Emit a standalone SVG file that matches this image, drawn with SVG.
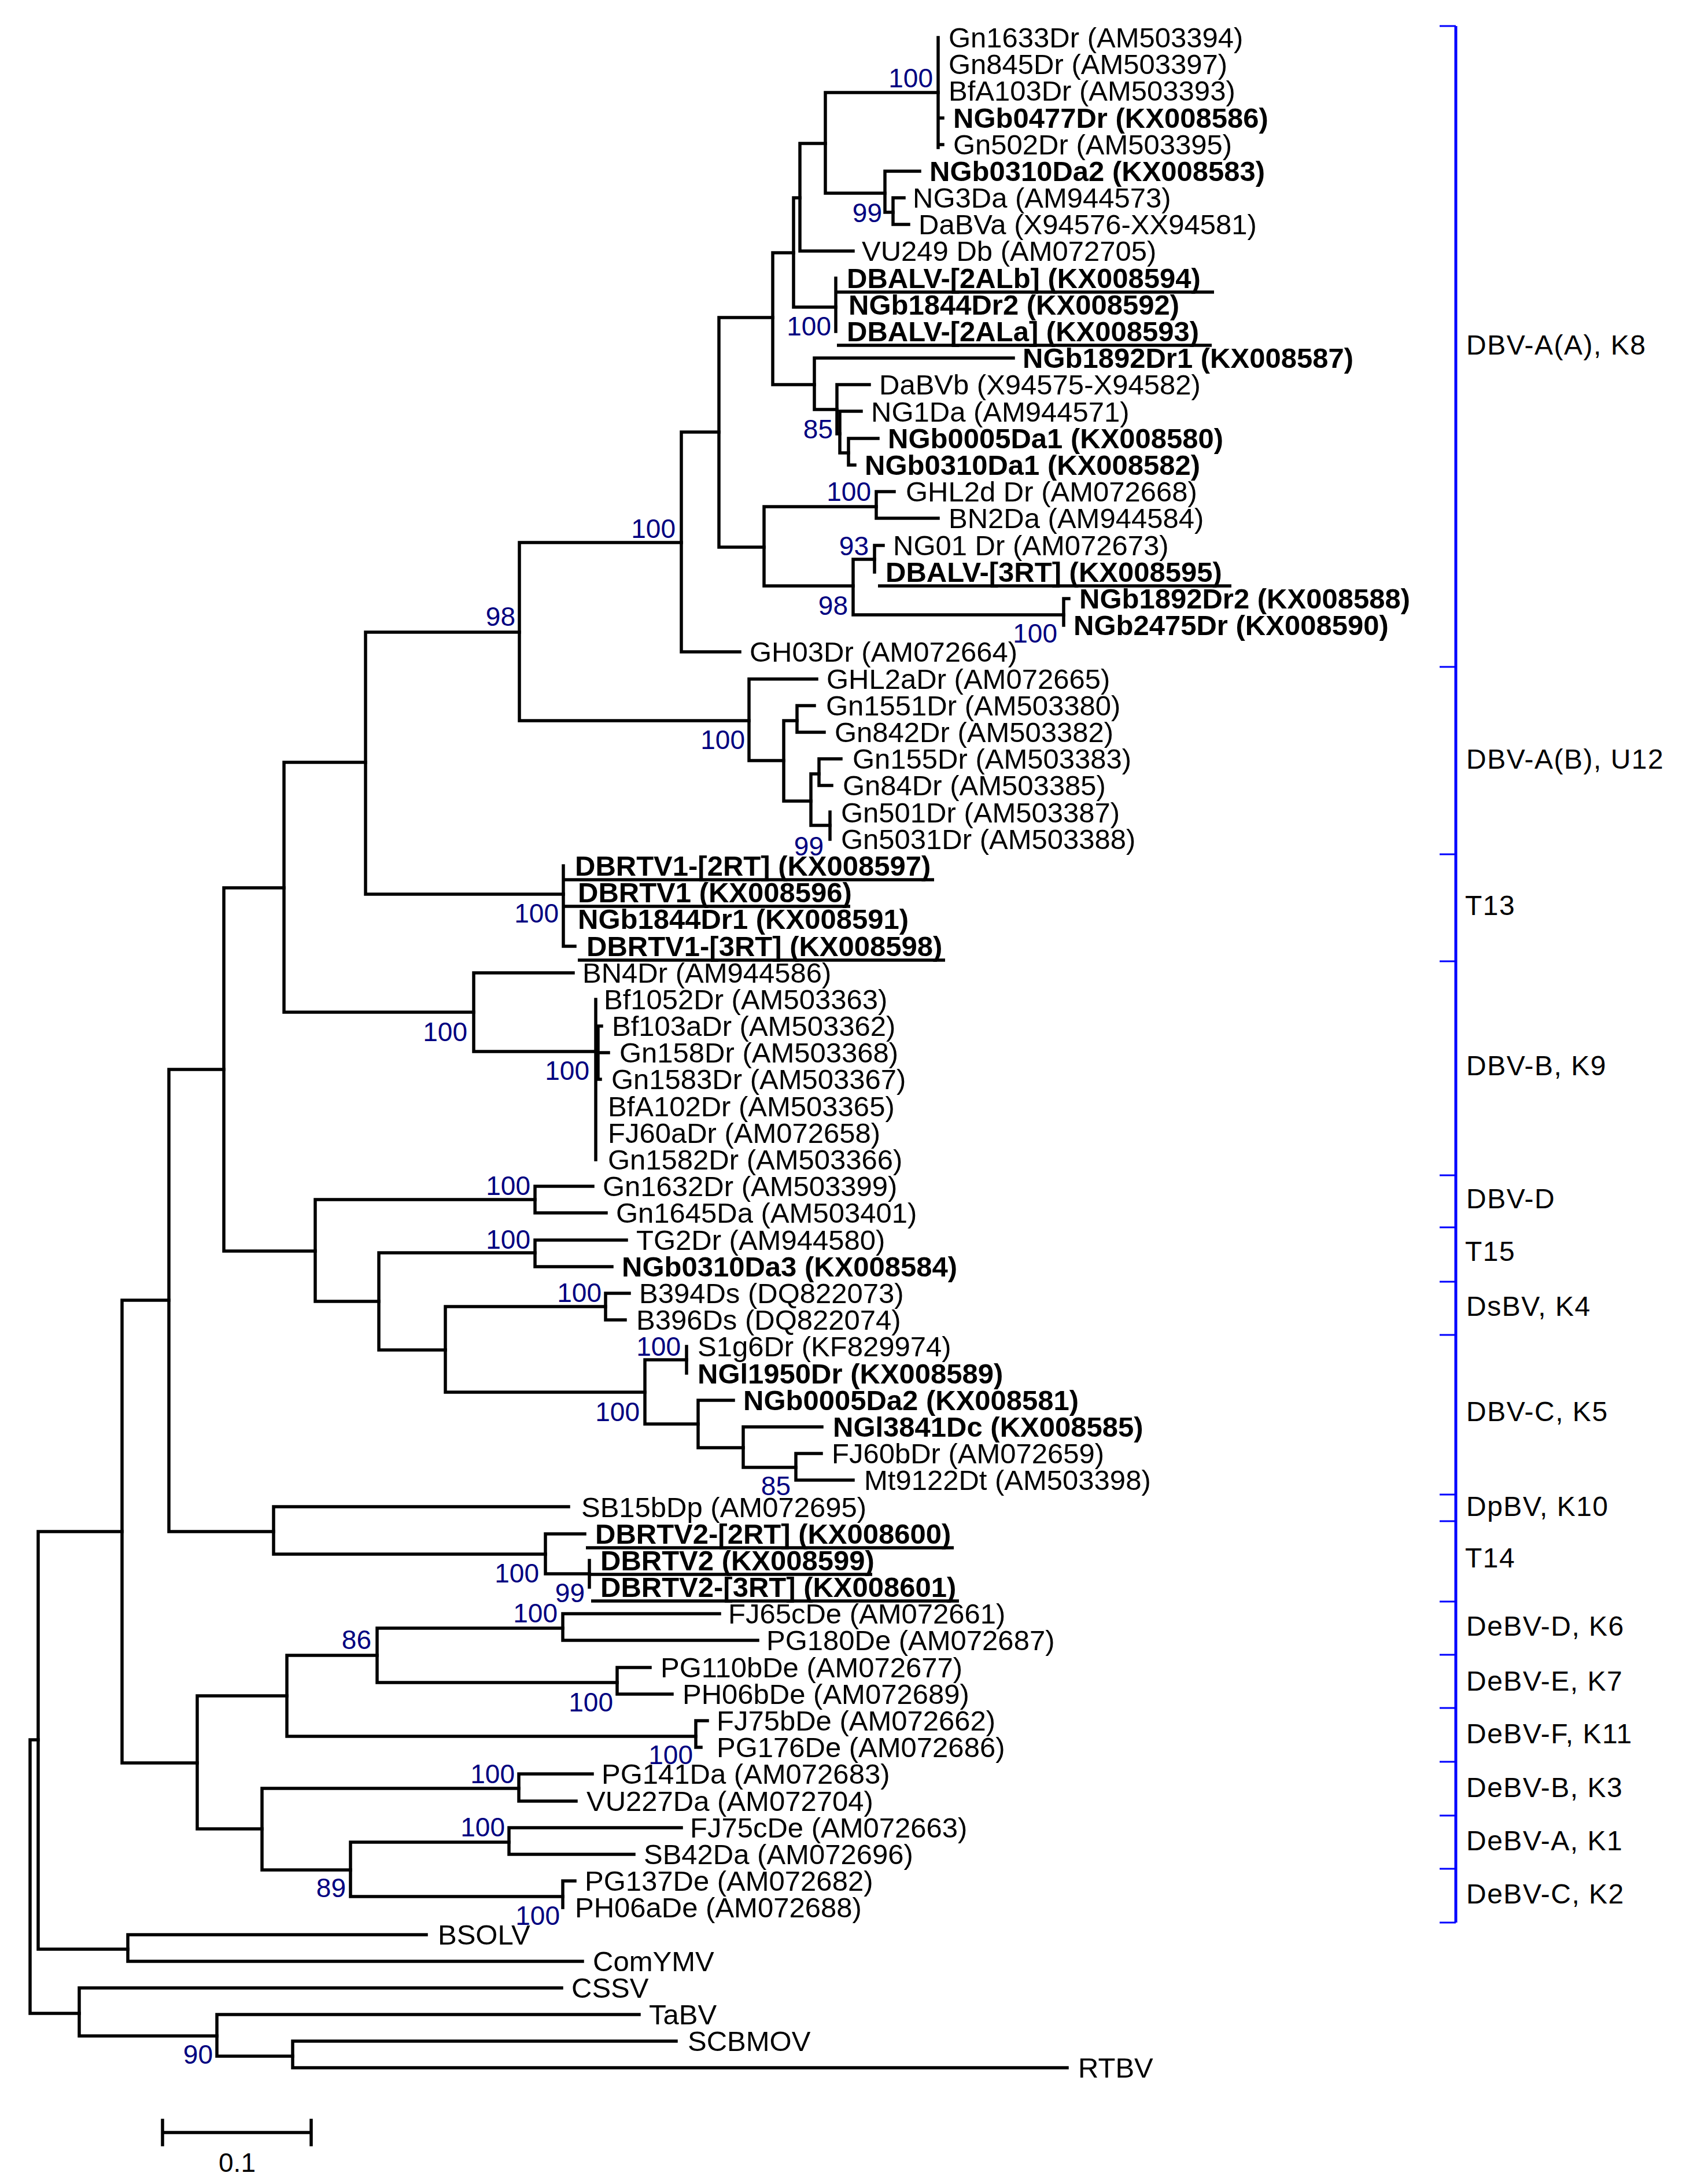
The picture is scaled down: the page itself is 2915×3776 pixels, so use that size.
<svg xmlns="http://www.w3.org/2000/svg" width="2915" height="3776" viewBox="0 0 2915 3776">
<style>
.br{stroke:#000;stroke-width:5.5;fill:none;stroke-linecap:square}
.ul{stroke:#000;stroke-width:5.5}
text{font-family:"Liberation Sans",Arial,sans-serif}
.lf{font-size:49px;fill:#000}
.b{font-weight:bold}
.bs{font-size:46px;fill:#000080;text-anchor:end}
.cl{font-size:48px;fill:#000;letter-spacing:1.5px}
.bk{stroke:#0000FF;stroke-width:5;fill:none}
.tk{stroke:#0000FF;stroke-width:3;fill:none}
</style>
<rect width="2915" height="3776" fill="#fff"/>
<g id="branches" class="br">
<path d="M1622 65V255M1622 204H1630M1622 250H1630"/>
<path d="M1427 160V334M1427 160H1622M1427 334H1530"/>
<path d="M1530 296V367M1530 296H1590M1530 367H1544"/>
<path d="M1544 342V388M1544 342H1563M1544 388H1571"/>
<path d="M1383 248V434M1383 248H1427M1383 434H1475"/>
<path d="M1372 342V531M1372 342H1383M1372 531H1445"/>
<path d="M1445 481V573"/>
<path d="M1336 437V665M1336 437H1372M1336 665H1408"/>
<path d="M1408 619V708M1408 619H1752M1408 708H1447"/>
<path d="M1447 665V750M1447 665H1503M1447 750H1452"/>
<path d="M1452 711V783M1452 711H1489M1452 783H1467"/>
<path d="M1467 758V804M1467 758H1518M1467 804H1478"/>
<path d="M1243 549V946M1243 549H1336M1243 946H1321"/>
<path d="M1321 876V1013M1321 876H1515M1321 1013H1475"/>
<path d="M1515 850V896M1515 850H1546M1515 896H1622"/>
<path d="M1475 967V1063M1475 967H1512M1475 1063H1839"/>
<path d="M1512 943V989M1512 943H1527"/>
<path d="M1839 1035V1081M1839 1035H1848"/>
<path d="M1178 747V1127M1178 747H1243M1178 1127H1279"/>
<path d="M898 938V1246M898 938H1178M898 1246H1295"/>
<path d="M1295 1174V1315M1295 1174H1412M1295 1315H1355"/>
<path d="M1355 1246V1385M1355 1246H1378M1355 1385H1402"/>
<path d="M1378 1220V1266M1378 1220H1408M1378 1266H1425"/>
<path d="M1402 1338V1427M1402 1338H1416M1402 1427H1435"/>
<path d="M1416 1312V1358M1416 1312H1454M1416 1358H1438"/>
<path d="M1435 1404V1451"/>
<path d="M632 1093V1546M632 1093H898M632 1546H974"/>
<path d="M974 1497V1636M974 1636H994"/>
<path d="M491 1318V1750M491 1318H632M491 1750H819"/>
<path d="M819 1682V1818M819 1682H991M819 1818H1030"/>
<path d="M1030 1728V2005M1030 1774H1040M1030 1820H1052M1030 1866H1038M1034 1774V1866"/>
<path d="M387 1535V2163M387 1535H491M387 2163H545"/>
<path d="M545 2074V2250M545 2074H925M545 2250H655"/>
<path d="M925 2051V2097M925 2051H1025M925 2097H1048"/>
<path d="M655 2166V2334M655 2166H925M655 2334H770"/>
<path d="M925 2144V2190M925 2144H1083M925 2190H1058"/>
<path d="M770 2259V2407M770 2259H1047M770 2407H1115"/>
<path d="M1047 2236V2282M1047 2236H1088M1047 2282H1081"/>
<path d="M1115 2351V2462M1115 2351H1187M1115 2462H1207"/>
<path d="M1187 2328V2374"/>
<path d="M1207 2421V2503M1207 2421H1268M1207 2503H1285"/>
<path d="M1285 2467V2537M1285 2467H1421M1285 2537H1376"/>
<path d="M1376 2513V2559M1376 2513H1420M1376 2559H1475"/>
<path d="M292 1849V2648M292 1849H387M292 2648H473"/>
<path d="M473 2605V2687M473 2605H983M473 2687H943"/>
<path d="M943 2652V2721M943 2652H1011M943 2721H1019"/>
<path d="M1019 2698V2744"/>
<path d="M211 2248V3048M211 2248H292M211 3048H341"/>
<path d="M341 2932V3162M341 2932H496M341 3162H453"/>
<path d="M496 2862V3002M496 2862H652M496 3002H1203"/>
<path d="M652 2815V2909M652 2815H973M652 2909H1067"/>
<path d="M973 2790V2836M973 2790H1244M973 2836H1310"/>
<path d="M1067 2883V2929M1067 2883H1124M1067 2929H1162"/>
<path d="M1203 2975V3021M1203 2975H1223M1203 3021H1212"/>
<path d="M453 3092V3233M453 3092H897M453 3233H606"/>
<path d="M897 3067V3114M897 3067H1024M897 3114H996"/>
<path d="M606 3185V3279M606 3185H880M606 3279H973"/>
<path d="M880 3160V3206M880 3160H1178M880 3206H1096"/>
<path d="M973 3252V3298M973 3252H994"/>
<path d="M66 2648V3370M66 2648H211M66 3370H221"/>
<path d="M221 3345V3391M221 3345H737M221 3391H1007"/>
<path d="M52 3008V3481M52 3008H66M52 3481H137"/>
<path d="M137 3437V3520M137 3437H971M137 3520H375"/>
<path d="M375 3483V3555M375 3483H1105M375 3555H506"/>
<path d="M506 3529V3575M506 3529H1169M506 3575H1845"/>
</g>
<g id="underlines" class="ul">
<path d="M1445 505H2099M1447 597H2095M1518 1013H2129M976 1521H1615M976 1567H1470M999 1660H1634M1013 2676H1649M1019 2722H1508M1022 2768H1658"/>
</g>
<g id="leaves" class="lf">
<g id="leaf-Gn1633Dr"><text x="1640" y="82">Gn1633Dr (AM503394)</text></g>
<g id="leaf-Gn845Dr"><text x="1640" y="128">Gn845Dr (AM503397)</text></g>
<g id="leaf-BfA103Dr"><text x="1640" y="174">BfA103Dr (AM503393)</text></g>
<g id="leaf-NGb0477Dr"><text class="b" x="1648" y="221">NGb0477Dr (KX008586)</text></g>
<g id="leaf-Gn502Dr"><text x="1648" y="267">Gn502Dr (AM503395)</text></g>
<g id="leaf-NGb0310Da2"><text class="b" x="1607" y="313">NGb0310Da2 (KX008583)</text></g>
<g id="leaf-NG3Da"><text x="1578" y="359">NG3Da (AM944573)</text></g>
<g id="leaf-DaBVa"><text x="1588" y="405">DaBVa (X94576-XX94581)</text></g>
<g id="leaf-VU249Db"><text x="1490" y="451">VU249 Db (AM072705)</text></g>
<g id="leaf-DBALV-2ALb"><text class="b" x="1464" y="498">DBALV-[2ALb] (KX008594)</text></g>
<g id="leaf-NGb1844Dr2"><text class="b" x="1467" y="544">NGb1844Dr2 (KX008592)</text></g>
<g id="leaf-DBALV-2ALa"><text class="b" x="1464" y="590">DBALV-[2ALa] (KX008593)</text></g>
<g id="leaf-NGb1892Dr1"><text class="b" x="1768" y="636">NGb1892Dr1 (KX008587)</text></g>
<g id="leaf-DaBVb"><text x="1520" y="682">DaBVb (X94575-X94582)</text></g>
<g id="leaf-NG1Da"><text x="1506" y="729">NG1Da (AM944571)</text></g>
<g id="leaf-NGb0005Da1"><text class="b" x="1535" y="775">NGb0005Da1 (KX008580)</text></g>
<g id="leaf-NGb0310Da1"><text class="b" x="1495" y="821">NGb0310Da1 (KX008582)</text></g>
<g id="leaf-GHL2dDr"><text x="1566" y="867">GHL2d Dr (AM072668)</text></g>
<g id="leaf-BN2Da"><text x="1640" y="913">BN2Da (AM944584)</text></g>
<g id="leaf-NG01Dr"><text x="1544" y="960">NG01 Dr (AM072673)</text></g>
<g id="leaf-DBALV-3RT"><text class="b" x="1531" y="1006">DBALV-[3RT] (KX008595)</text></g>
<g id="leaf-NGb1892Dr2"><text class="b" x="1866" y="1052">NGb1892Dr2 (KX008588)</text></g>
<g id="leaf-NGb2475Dr"><text class="b" x="1856" y="1098">NGb2475Dr (KX008590)</text></g>
<g id="leaf-GH03Dr"><text x="1296" y="1144">GH03Dr (AM072664)</text></g>
<g id="leaf-GHL2aDr"><text x="1429" y="1191">GHL2aDr (AM072665)</text></g>
<g id="leaf-Gn1551Dr"><text x="1428" y="1237">Gn1551Dr (AM503380)</text></g>
<g id="leaf-Gn842Dr"><text x="1443" y="1283">Gn842Dr (AM503382)</text></g>
<g id="leaf-Gn155Dr"><text x="1474" y="1329">Gn155Dr (AM503383)</text></g>
<g id="leaf-Gn84Dr"><text x="1457" y="1375">Gn84Dr (AM503385)</text></g>
<g id="leaf-Gn501Dr"><text x="1454" y="1422">Gn501Dr (AM503387)</text></g>
<g id="leaf-Gn5031Dr"><text x="1454" y="1468">Gn5031Dr (AM503388)</text></g>
<g id="leaf-DBRTV1-2RT"><text class="b" x="994" y="1514">DBRTV1-[2RT] (KX008597)</text></g>
<g id="leaf-DBRTV1"><text class="b" x="999" y="1560">DBRTV1 (KX008596)</text></g>
<g id="leaf-NGb1844Dr1"><text class="b" x="999" y="1606">NGb1844Dr1 (KX008591)</text></g>
<g id="leaf-DBRTV1-3RT"><text class="b" x="1014" y="1653">DBRTV1-[3RT] (KX008598)</text></g>
<g id="leaf-BN4Dr"><text x="1007" y="1699">BN4Dr (AM944586)</text></g>
<g id="leaf-Bf1052Dr"><text x="1044" y="1745">Bf1052Dr (AM503363)</text></g>
<g id="leaf-Bf103aDr"><text x="1058" y="1791">Bf103aDr (AM503362)</text></g>
<g id="leaf-Gn158Dr"><text x="1071" y="1837">Gn158Dr (AM503368)</text></g>
<g id="leaf-Gn1583Dr"><text x="1057" y="1883">Gn1583Dr (AM503367)</text></g>
<g id="leaf-BfA102Dr"><text x="1051" y="1930">BfA102Dr (AM503365)</text></g>
<g id="leaf-FJ60aDr"><text x="1051" y="1976">FJ60aDr (AM072658)</text></g>
<g id="leaf-Gn1582Dr"><text x="1051" y="2022">Gn1582Dr (AM503366)</text></g>
<g id="leaf-Gn1632Dr"><text x="1042" y="2068">Gn1632Dr (AM503399)</text></g>
<g id="leaf-Gn1645Da"><text x="1065" y="2114">Gn1645Da (AM503401)</text></g>
<g id="leaf-TG2Dr"><text x="1100" y="2161">TG2Dr (AM944580)</text></g>
<g id="leaf-NGb0310Da3"><text class="b" x="1075" y="2207">NGb0310Da3 (KX008584)</text></g>
<g id="leaf-B394Ds"><text x="1105" y="2253">B394Ds (DQ822073)</text></g>
<g id="leaf-B396Ds"><text x="1100" y="2299">B396Ds (DQ822074)</text></g>
<g id="leaf-S1g6Dr"><text x="1206" y="2345">S1g6Dr (KF829974)</text></g>
<g id="leaf-NGl1950Dr"><text class="b" x="1206" y="2392">NGl1950Dr (KX008589)</text></g>
<g id="leaf-NGb0005Da2"><text class="b" x="1285" y="2438">NGb0005Da2 (KX008581)</text></g>
<g id="leaf-NGl3841Dc"><text class="b" x="1440" y="2484">NGl3841Dc (KX008585)</text></g>
<g id="leaf-FJ60bDr"><text x="1438" y="2530">FJ60bDr (AM072659)</text></g>
<g id="leaf-Mt9122Dt"><text x="1494" y="2576">Mt9122Dt (AM503398)</text></g>
<g id="leaf-SB15bDp"><text x="1005" y="2623">SB15bDp (AM072695)</text></g>
<g id="leaf-DBRTV2-2RT"><text class="b" x="1029" y="2669">DBRTV2-[2RT] (KX008600)</text></g>
<g id="leaf-DBRTV2"><text class="b" x="1038" y="2715">DBRTV2 (KX008599)</text></g>
<g id="leaf-DBRTV2-3RT"><text class="b" x="1038" y="2761">DBRTV2-[3RT] (KX008601)</text></g>
<g id="leaf-FJ65cDe"><text x="1259" y="2807">FJ65cDe (AM072661)</text></g>
<g id="leaf-PG180De"><text x="1325" y="2853">PG180De (AM072687)</text></g>
<g id="leaf-PG110bDe"><text x="1142" y="2900">PG110bDe (AM072677)</text></g>
<g id="leaf-PH06bDe"><text x="1180" y="2946">PH06bDe (AM072689)</text></g>
<g id="leaf-FJ75bDe"><text x="1239" y="2992">FJ75bDe (AM072662)</text></g>
<g id="leaf-PG176De"><text x="1239" y="3038">PG176De (AM072686)</text></g>
<g id="leaf-PG141Da"><text x="1040" y="3084">PG141Da (AM072683)</text></g>
<g id="leaf-VU227Da"><text x="1014" y="3131">VU227Da (AM072704)</text></g>
<g id="leaf-FJ75cDe"><text x="1193" y="3177">FJ75cDe (AM072663)</text></g>
<g id="leaf-SB42Da"><text x="1113" y="3223">SB42Da (AM072696)</text></g>
<g id="leaf-PG137De"><text x="1011" y="3269">PG137De (AM072682)</text></g>
<g id="leaf-PH06aDe"><text x="994" y="3315">PH06aDe (AM072688)</text></g>
<g id="leaf-BSOLV"><text x="757" y="3362">BSOLV</text></g>
<g id="leaf-ComYMV"><text x="1025" y="3408">ComYMV</text></g>
<g id="leaf-CSSV"><text x="988" y="3454">CSSV</text></g>
<g id="leaf-TaBV"><text x="1122" y="3500">TaBV</text></g>
<g id="leaf-SCBMOV"><text x="1189" y="3546">SCBMOV</text></g>
<g id="leaf-RTBV"><text x="1864" y="3592">RTBV</text></g>
</g>
<g id="bootstrap" class="bs">
<text x="1613" y="151">100</text>
<text x="1525" y="384">99</text>
<text x="1437" y="580">100</text>
<text x="1440" y="758">85</text>
<text x="1506" y="866">100</text>
<text x="1502" y="960">93</text>
<text x="1466" y="1063">98</text>
<text x="1828" y="1111">100</text>
<text x="1168" y="930">100</text>
<text x="891" y="1082">98</text>
<text x="1288" y="1295">100</text>
<text x="1424" y="1479">99</text>
<text x="966" y="1595">100</text>
<text x="808" y="1800">100</text>
<text x="1019" y="1867">100</text>
<text x="917" y="2066">100</text>
<text x="917" y="2159">100</text>
<text x="1040" y="2251">100</text>
<text x="1177" y="2344">100</text>
<text x="1106" y="2457">100</text>
<text x="1367" y="2585">85</text>
<text x="932" y="2736">100</text>
<text x="1011" y="2770">99</text>
<text x="964" y="2805">100</text>
<text x="642" y="2851">86</text>
<text x="1060" y="2959">100</text>
<text x="1198" y="3050">100</text>
<text x="890" y="3083">100</text>
<text x="873" y="3175">100</text>
<text x="598" y="3280">89</text>
<text x="968" y="3328">100</text>
<text x="368" y="3568">90</text>
</g>
<g id="clade-bracket">
<path class="bk" d="M2517 45V3324"/>
<path class="tk" d="M2489 45H2517M2489 1153H2517M2489 1477H2517M2489 1662H2517M2489 2032H2517M2489 2122H2517M2489 2216H2517M2489 2308H2517M2489 2584H2517M2489 2630H2517M2489 2769H2517M2489 2861H2517M2489 2953H2517M2489 3046H2517M2489 3139H2517M2489 3231H2517M2489 3324H2517"/>
</g>
<g id="clade-labels" class="cl">
<g id="clade-DBV-AA"><text x="2535" y="613">DBV-A(A), K8</text></g>
<g id="clade-DBV-AB"><text x="2535" y="1329">DBV-A(B), U12</text></g>
<g id="clade-T13"><text x="2533" y="1582">T13</text></g>
<g id="clade-DBV-B"><text x="2535" y="1859">DBV-B, K9</text></g>
<g id="clade-DBV-D"><text x="2535" y="2089">DBV-D</text></g>
<g id="clade-T15"><text x="2533" y="2180">T15</text></g>
<g id="clade-DsBV"><text x="2535" y="2275">DsBV, K4</text></g>
<g id="clade-DBV-C"><text x="2535" y="2457">DBV-C, K5</text></g>
<g id="clade-DpBV"><text x="2535" y="2621">DpBV, K10</text></g>
<g id="clade-T14"><text x="2533" y="2710">T14</text></g>
<g id="clade-DeBV-D"><text x="2535" y="2828">DeBV-D, K6</text></g>
<g id="clade-DeBV-E"><text x="2535" y="2923">DeBV-E, K7</text></g>
<g id="clade-DeBV-F"><text x="2535" y="3014">DeBV-F, K11</text></g>
<g id="clade-DeBV-B"><text x="2535" y="3107">DeBV-B, K3</text></g>
<g id="clade-DeBV-A"><text x="2535" y="3199">DeBV-A, K1</text></g>
<g id="clade-DeBV-C"><text x="2535" y="3291">DeBV-C, K2</text></g>
</g>
<g id="scale-bar">
<path class="br" d="M281 3687H538M281 3666V3708M538 3666V3708"/>
<text class="lf" x="410" y="3755" text-anchor="middle" style="font-size:46px">0.1</text>
</g>
</svg>
